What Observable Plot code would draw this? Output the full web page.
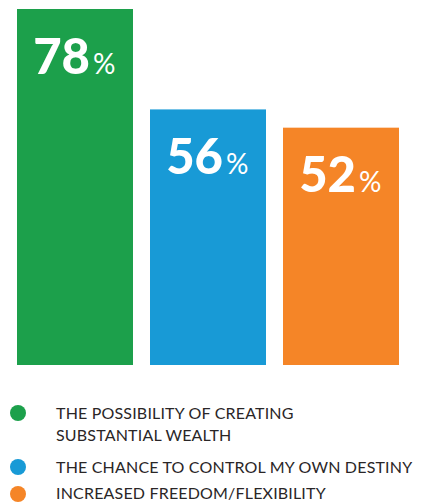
<!DOCTYPE html>
<html>
<head>
<meta charset="utf-8">
<script src="https://cdn.jsdelivr.net/npm/d3@7"></script>
<script src="https://cdn.jsdelivr.net/npm/@observablehq/plot@0.6"></script>
<style>
  html, body { margin: 0; padding: 0; background: #fff; overflow: hidden; }
  #chart svg { display: block; }
  #legend { padding-top: 32px; font-family: Lato, sans-serif; font-size: 16px; line-height: 22px; color: #2a2627; letter-spacing: 0.18px; }
  .row { display: flex; align-items: flex-start; }
  .dot { width: 16px; height: 16px; border-radius: 50%; margin-left: 10px; margin-right: 30px; margin-top: 3px; flex: none; }
  .row.last { line-height: 16px; }
  .row.last .dot { margin-top: 1px; }
</style>
</head>
<body>
<div id="chart"></div>
<div id="legend"></div>
<script>
const categories = [
  "THE POSSIBILITY OF CREATING SUBSTANTIAL WEALTH",
  "THE CHANCE TO CONTROL MY OWN DESTINY",
  "INCREASED FREEDOM/FLEXIBILITY"
];
const legendLines = [
  ["THE POSSIBILITY OF CREATING", "SUBSTANTIAL WEALTH"],
  ["THE CHANCE TO CONTROL MY OWN DESTINY"],
  ["INCREASED FREEDOM/FLEXIBILITY"]
];
const values = [78, 56, 52];
const colors = ["#1ca04b", "#189ad6", "#f58527"];

const data = categories.map((c, i) => ({category: c, value: values[i]}));

const plot = Plot.plot({
  width: 422,
  height: 370,
  marginLeft: 16,
  marginRight: 22,
  marginTop: 9,
  marginBottom: 5,
  x: {domain: categories, paddingInner: 0.127, paddingOuter: 0, axis: null},
  y: {domain: [0, 78], axis: null},
  color: {domain: categories, range: colors},
  marks: [
    Plot.barY(data, {x: "category", y: "value", fill: "category"}),
    Plot.text(data, {x: "category", y: "value", text: d => String(d.value), fill: "white",
      fontFamily: "Lato, sans-serif", fontWeight: 900, fontSize: 49, textAnchor: "end",
      lineAnchor: "bottom", dx: 14.5, dy: 64}),
    Plot.text(data, {x: "category", y: "value", text: d => "%", fill: "white",
      fontFamily: "Lato, sans-serif", fontWeight: 400, fontSize: 28, textAnchor: "start",
      lineAnchor: "bottom", dx: 17.5, dy: 64})
  ]
});
document.getElementById("chart").appendChild(plot);

const legend = document.getElementById("legend");
const gaps = [0, 10, 7];
legendLines.forEach((lines, i) => {
  const row = document.createElement("div");
  row.className = "row" + (i === legendLines.length - 1 ? " last" : "");
  row.style.marginTop = gaps[i] + "px";
  const dot = document.createElement("div");
  dot.className = "dot";
  dot.style.background = colors[i];
  const txt = document.createElement("div");
  txt.innerHTML = lines.join("<br>");
  row.appendChild(dot);
  row.appendChild(txt);
  legend.appendChild(row);
});
</script>
</body>
</html>
